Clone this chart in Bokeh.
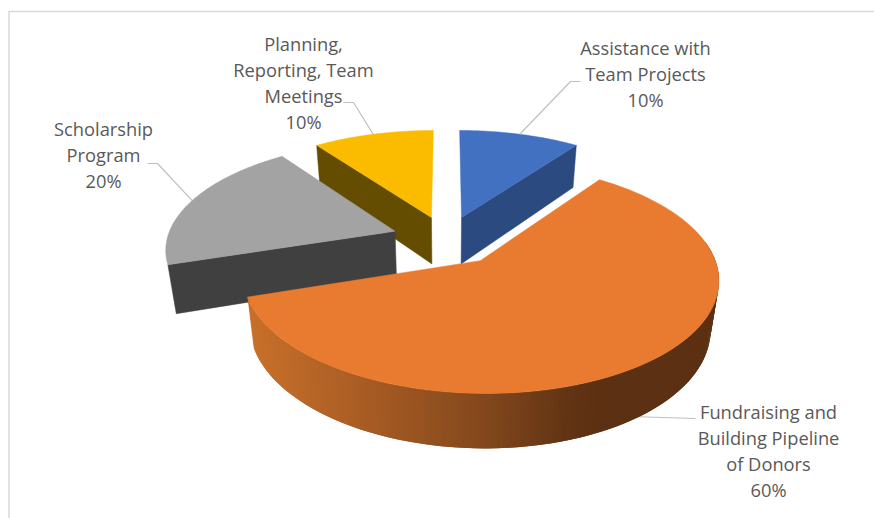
import math
from bokeh.core.properties import value
from bokeh.embed import file_html
from bokeh.plotting import figure
from bokeh.resources import INLINE

# Chart data: slices run clockwise from twelve o'clock
categories = ["Assistance with Team Projects", "Fundraising and Building Pipeline of Donors",
              "Scholarship Program", "Planning, Reporting, Team Meetings"]
shares = [10, 60, 20, 10]
label_lines = [["Assistance with", "Team Projects"],
               ["Fundraising and", "Building Pipeline", "of Donors"],
               ["Scholarship", "Program"],
               ["Planning,", "Reporting, Team", "Meetings"]]
explode = [0.22, 0.245, 0.24, 0.22]

# Slice colours
top_colors = ["#4371C1", "#E97B30", "#A3A3A3", "#FBBC00"]
wall_colors = ["#2B4A80", None, "#404040", "#644C00"]
wall_gradient = [(250, (200, 112, 42)), (363, (168, 92, 36)), (480, (131, 72, 28)),
                 (563, (99, 52, 20)), (597, (92, 48, 18))]

# Label placement in page pixels: centre x, y of first line, line step, leader elbow and end
label_x = [645, 768, 103, 303]
label_y = [47, 411, 128, 43]
line_step = 26
leader_elbow = [(570, 81), (630, 416), (157, 163), (353, 102)]
leader_end = [(580, 81), (695, 418), (147, 163), (343, 102)]

# Camera used to flatten the tilted pie onto the page
CX, CY, FX, FY = 446, 238.5, 228, 105.9
DEPTH, DEPTH_SLOPE = 49, -2
TILT, SINK = 0.149, 0.03


def project(x, y, z=0.0):
    w = 1 + TILT * y - SINK * z
    return CX + FX * x / w, CY - (FY * y + (DEPTH + DEPTH_SLOPE * y) * z) / w


def rim(i, deg, z=0.0, r=1.0):
    mid = math.radians(angles[i] + shares[i] * 1.8)
    a = math.radians(deg)
    return project(explode[i] * math.sin(mid) + r * math.sin(a),
                   explode[i] * math.cos(mid) + r * math.cos(a), z)


def arc(i, a0, a1, z=0.0, n=90):
    return [rim(i, a0 + (a1 - a0) * t / n, z) for t in range(n + 1)]


def gradient_color(x):
    stops = wall_gradient
    if x <= stops[0][0]:
        c = stops[0][1]
    elif x >= stops[-1][0]:
        c = stops[-1][1]
    else:
        for (x0, c0), (x1, c1) in zip(stops, stops[1:]):
            if x0 <= x <= x1:
                t = (x - x0) / (x1 - x0)
                c = tuple(c0[j] + (c1[j] - c0[j]) * t for j in range(3))
                break
    return "#%02x%02x%02x" % tuple(int(round(v)) for v in c)


angles = [sum(shares[:i]) * 3.6 for i in range(len(shares))]
ends = [a + s * 3.6 for a, s in zip(angles, shares)]

p = figure(width=874, height=518, x_range=(0, 874), y_range=(518, 0),
           output_backend="svg", toolbar_location=None, min_border=0,
           background_fill_color="white", border_fill_color="white", outline_line_color=None)
p.axis.visible = False
p.grid.visible = False

# Chart frame: only the top and left edges fall inside the page
p.line([8.5, 8.5, 874], [518, 11, 11], line_color="#D9D9D9", line_width=1.5)


def draw_top(i):
    pts = [rim(i, 0, r=0)] + arc(i, angles[i], ends[i])
    p.patch([q[0] for q in pts], [q[1] for q in pts], fill_color=top_colors[i],
            line_color=top_colors[i], line_width=0.5)


def draw_radial_wall(i, deg):
    a, b = rim(i, 0, r=0), rim(i, deg)
    c, d = rim(i, deg, -1), rim(i, 0, -1, r=0)
    p.patch([a[0], b[0], c[0], d[0]], [a[1], b[1], c[1], d[1]], fill_color=wall_colors[i],
            line_color=wall_colors[i], line_width=0.5)


def draw_leader(i):
    start = rim(i, angles[i] + shares[i] * 1.8)
    xs = [start[0], leader_elbow[i][0], leader_end[i][0]]
    ys = [start[1], leader_elbow[i][1], leader_end[i][1]]
    p.line(xs, ys, line_color="#BFBFBF", line_width=1.2)


# Paint back to front: the two small rear slices, the grey slice, then the large front slice
draw_radial_wall(3, angles[3])
draw_top(3)
draw_radial_wall(0, ends[0])
draw_top(0)
draw_radial_wall(2, angles[2])
draw_top(2)
for i in range(4):
    draw_leader(i)

# Outer wall of the large slice, shaded left to right in overlapping strips so no seams show
STRIPS = 160
upper = arc(1, 80, ends[1], 0, STRIPS + 1)
lower = arc(1, 80, ends[1], -1, STRIPS + 1)
for j in range(STRIPS):
    xs = [upper[j][0], upper[j + 2][0], lower[j + 2][0], lower[j][0]]
    ys = [upper[j][1], upper[j + 2][1], lower[j + 2][1], lower[j][1]]
    col = gradient_color(sum(xs) / 4)
    p.patch(xs, ys, fill_color=col, line_color=None)
draw_top(1)

# Category and share labels, one text per line
for i in range(4):
    lines = label_lines[i] + [f"{shares[i]}%"]
    p.text([label_x[i]] * len(lines), [label_y[i] + line_step * k for k in range(len(lines))],
           text=lines, text_align="center", text_baseline="middle",
           text_font=value("Open Sans"), text_font_size="18.3px", text_color="#595959")

open("out.html", "w").write(file_html(p, INLINE))
